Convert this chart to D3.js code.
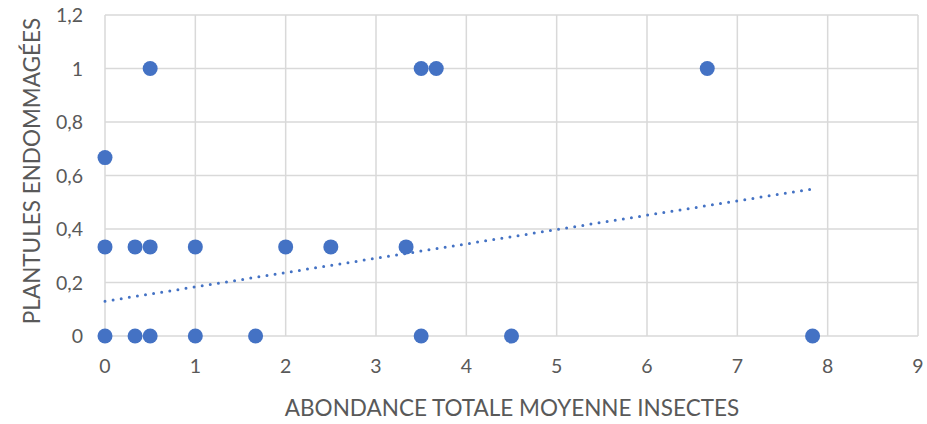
<!DOCTYPE html>
<html><head><meta charset="utf-8">
<script src="https://cdn.jsdelivr.net/npm/d3@7"></script>
<style>body{margin:0;background:#fff}svg{display:block}text{font-family:Lato,"Open Sans",sans-serif;fill:#595959}</style>
</head><body><svg id="c" width="927" height="424"></svg>
<script>
const xValues = [0,0.333,0.5,1,1.667,3.5,4.5,7.833, 0,0.333,0.5,1,2,2.5,3.333, 0, 0.5,3.5,3.667,6.667];
const yValues = [0,0,0,0,0,0,0,0, 0.333,0.333,0.333,0.333,0.333,0.333,0.333, 0.667, 1,1,1,1];
const xTicks = [0,1,2,3,4,5,6,7,8,9];
const yTicks = [0,0.2,0.4,0.6,0.8,1,1.2];
const trendX = [0, 7.8];
const trendY = [0.13, 0.548];
const xTitle = "ABONDANCE TOTALE MOYENNE INSECTES";
const yTitle = "PLANTULES ENDOMMAGÉES";

const svg = d3.select("#c");
const m = {l:105, r:918, t:15, b:336};
const x = d3.scaleLinear().domain([0,9]).range([m.l,m.r]);
const y = d3.scaleLinear().domain([0,1.2]).range([m.b,m.t]);
const fmt = d => d3.format(".1f")(d).replace(/\.0$/,"").replace(".",",");

const g = svg.append("g");
g.selectAll(".gx").data(xTicks).join("line")
 .attr("x1",d=>x(d)).attr("x2",d=>x(d)).attr("y1",m.t).attr("y2",m.b)
 .attr("stroke","#d9d9d9").attr("stroke-width",1.5);
g.selectAll(".gy").data(yTicks).join("line")
 .attr("y1",d=>y(d)).attr("y2",d=>y(d)).attr("x1",m.l).attr("x2",m.r)
 .attr("stroke","#d9d9d9").attr("stroke-width",1.5);

svg.append("g").selectAll("text").data(xTicks).join("text")
 .attr("x",d=>x(d)).attr("y",m.b+37).attr("text-anchor","middle")
 .attr("font-size",19.5).text(d=>d);
svg.append("g").selectAll("text").data(yTicks).join("text")
 .attr("x",m.l-22).attr("y",d=>y(d)+7).attr("text-anchor","end")
 .attr("font-size",19.5).text(fmt);

const pts = xValues.map((v,i)=>({x:v,y:yValues[i]}));
svg.append("g").selectAll("circle").data(pts).join("circle")
 .attr("cx",d=>x(d.x)).attr("cy",d=>y(d.y)).attr("r",7.5).attr("fill","#4472C4");

svg.append("line")
 .attr("x1",x(trendX[0])).attr("y1",y(trendY[0])).attr("x2",x(trendX[1])).attr("y2",y(trendY[1]))
 .attr("stroke","#4472C4").attr("stroke-width",3).attr("stroke-linecap","round")
 .attr("stroke-dasharray","0 8.2");

svg.append("text").attr("x",512).attr("y",416).attr("text-anchor","middle")
 .attr("font-size",22.5).text(xTitle);
svg.append("text").attr("transform",`translate(40,171) rotate(-90)`)
 .attr("text-anchor","middle").attr("font-size",22.5).text(yTitle);
</script></body></html>
